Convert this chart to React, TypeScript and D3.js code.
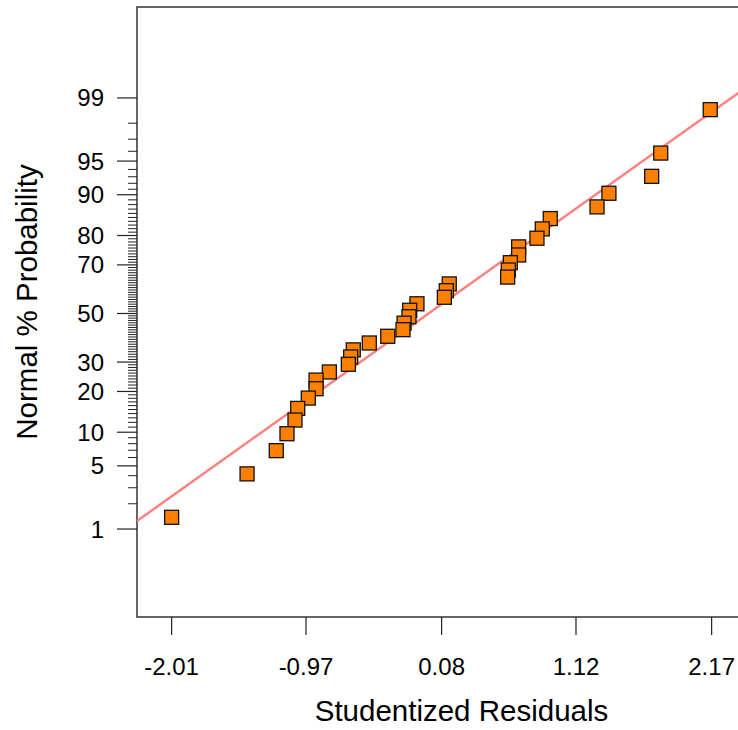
import React from "react";
import * as d3 from "d3";

// Studentized residuals (x) and their normal % probability (y)
const residuals = [
  -2.01, -1.426, -1.2, -1.117, -1.055, -1.034, -0.952, -0.892, -0.892, -0.789,
  -0.642, -0.624, -0.604, -0.48, -0.337, -0.219, -0.211, -0.173, -0.167, -0.111,
  0.101, 0.116, 0.139, 0.591, 0.596, 0.612, 0.676, 0.676, 0.818, 0.859,
  0.921, 1.283, 1.375, 1.706, 1.776, 2.159,
];
const probabilities = [
  1.39, 4.17, 6.94, 9.72, 12.5, 15.28, 18.06, 20.83, 23.61, 26.39,
  29.17, 31.94, 34.72, 37.5, 40.28, 43.06, 45.83, 48.61, 51.39, 54.17,
  56.94, 59.72, 62.5, 65.28, 68.06, 70.83, 73.61, 76.39, 79.17, 81.94,
  84.72, 87.5, 90.28, 93.06, 95.83, 98.61,
];
const xTicks = [-2.01, -0.97, 0.08, 1.12, 2.17];
const yMajorTicks = [1, 5, 10, 20, 30, 50, 70, 80, 90, 95, 99];
const yMinorTicks = d3.range(1, 100).filter((v) => !yMajorTicks.includes(v));
const fitLine = { intercept: 0.021, slope: 0.9925 };

// inverse standard normal CDF (Acklam)
function probit(p: number): number {
  const a = [-39.69683028665376, 220.9460984245205, -275.9285104469687, 138.357751867269, -30.66479806614716, 2.506628277459239];
  const b = [-54.47609879822406, 161.5858368580409, -155.6989798598866, 66.80131188771972, -13.28068155288572];
  const c = [-0.007784894002430293, -0.3223964580411365, -2.400758277161838, -2.549732539343734, 4.374664141464968, 2.938163982698783];
  const d = [0.007784695709041462, 0.3224671290700398, 2.445134137142996, 3.754408661907416];
  const pl = 0.02425;
  let q: number, r: number;
  if (p < pl) {
    q = Math.sqrt(-2 * Math.log(p));
    return (((((c[0] * q + c[1]) * q + c[2]) * q + c[3]) * q + c[4]) * q + c[5]) / ((((d[0] * q + d[1]) * q + d[2]) * q + d[3]) * q + 1);
  } else if (p <= 1 - pl) {
    q = p - 0.5;
    r = q * q;
    return ((((((a[0] * r + a[1]) * r + a[2]) * r + a[3]) * r + a[4]) * r + a[5]) * q) / (((((b[0] * r + b[1]) * r + b[2]) * r + b[3]) * r + b[4]) * r + 1);
  } else {
    q = Math.sqrt(-2 * Math.log(1 - p));
    return -(((((c[0] * q + c[1]) * q + c[2]) * q + c[3]) * q + c[4]) * q + c[5]) / ((((d[0] * q + d[1]) * q + d[2]) * q + d[3]) * q + 1);
  }
}

const W = 738;
const H = 730;
const left = 137;
const top = 7;
const right = 746;
const bottom = 617;

export default function App() {
  const x = d3.scaleLinear().domain([-2.278, 2.436]).range([left, right]);
  const zScale = d3.scaleLinear().domain([-3.276, 3.308]).range([bottom, top]);
  const y = (pct: number) => zScale(probit(pct / 100));

  const [x0, x1] = x.domain();
  const lineGen = d3
    .line<number>()
    .x((v) => x(v))
    .y((v) => zScale(fitLine.intercept + fitLine.slope * v));

  const font = "'Liberation Sans', Arial, sans-serif";
  const sq = 14;
  const order = d3.range(residuals.length).reverse();

  return (
    <svg
      width={W}
      height={H}
      style={{ position: "absolute", left: 0, top: 0, background: "#fff" }}
      fontFamily={font}
    >
      <defs>
        <clipPath id="plot">
          <rect x={left} y={top} width={right - left} height={bottom - top} />
        </clipPath>
      </defs>
      <rect x={0} y={0} width={W} height={H} fill="#fff" />
      {/* frame */}
      <rect x={left} y={top} width={right - left} height={bottom - top} fill="none" stroke="#333" strokeWidth={1.5} />

      {/* y minor ticks */}
      {yMinorTicks.map((t) => (
        <line key={"m" + t} x1={left - 9} x2={left} y1={y(t)} y2={y(t)} stroke="#222" strokeWidth={1} />
      ))}
      {/* y major ticks */}
      {yMajorTicks.map((t) => (
        <g key={"M" + t}>
          <line x1={left - 20} x2={left} y1={y(t)} y2={y(t)} stroke="#222" strokeWidth={1.2} />
          <text x={104} y={y(t) + 8.5} textAnchor="end" fontSize={24} fill="#000">
            {t}
          </text>
        </g>
      ))}

      {/* x ticks */}
      {xTicks.map((t) => (
        <g key={"x" + t}>
          <line x1={x(t)} x2={x(t)} y1={bottom} y2={bottom + 18} stroke="#222" strokeWidth={1.2} />
          <text x={x(t)} y={674.5} textAnchor="middle" fontSize={24} fill="#000">
            {t.toFixed(2)}
          </text>
        </g>
      ))}

      {/* fit line */}
      <path
        d={lineGen([x0, x1]) || ""}
        fill="none"
        stroke="rgb(255,128,128)"
        strokeWidth={2.5}
        clipPath="url(#plot)"
      />

      {/* points */}
      <g clipPath="url(#plot)">
        {order.map((i) => (
          <rect
            key={i}
            x={x(residuals[i]) - sq / 2}
            y={y(probabilities[i]) - sq / 2}
            width={sq}
            height={sq}
            fill="#FF8000"
            stroke="#111"
            strokeWidth={1.3}
          />
        ))}
      </g>

      {/* axis titles */}
      <text x={461.5} y={721} textAnchor="middle" fontSize={29.5} fill="#000">
        Studentized Residuals
      </text>
      <text
        transform={`translate(37, 302) rotate(-90)`}
        textAnchor="middle"
        fontSize={29.5}
        fill="#000"
      >
        Normal % Probability
      </text>
    </svg>
  );
}
